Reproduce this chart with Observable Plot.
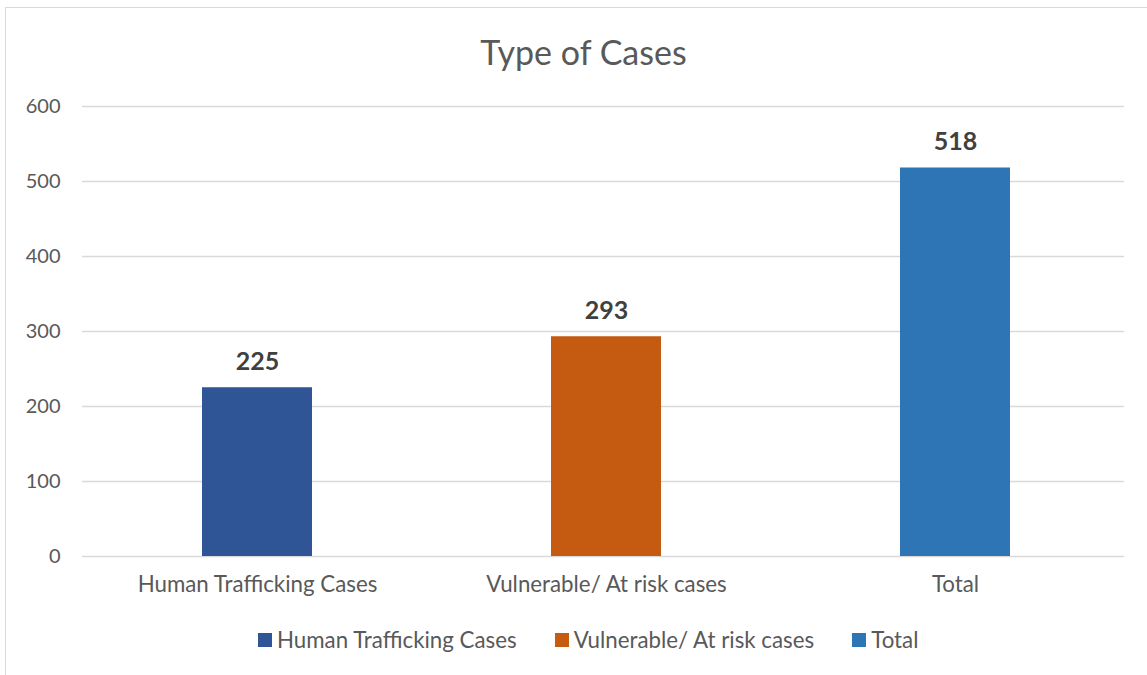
<!DOCTYPE html>
<html>
<head>
<meta charset="utf-8">
<script src="https://cdn.jsdelivr.net/npm/d3@7"></script>
<script src="https://cdn.jsdelivr.net/npm/@observablehq/plot@0.6"></script>
<style>
  html, body { margin: 0; padding: 0; background: #fff; }
  #wrap { position: relative; width: 1147px; height: 675px; overflow: hidden; font-family: Lato, "Open Sans", sans-serif; }
  #frame { position: absolute; left: 5px; top: 7px; width: 1160px; height: 700px; border-left: 1.5px solid #d9d9d9; border-top: 1.5px solid #d9d9d9; }
  #title { position: absolute; left: 0; width: 1167px; top: 31px; text-align: center; font-size: 34px; line-height: 42px; color: #595959; }
  #chart { position: absolute; left: 0; top: 0; }
  #legend { position: absolute; left: 258px; top: 627px; display: flex; font-size: 22.3px; line-height: 26px; color: #595959; }
  .item { display: flex; align-items: center; margin-right: 38px; }
  .sw { width: 14px; height: 14px; margin-right: 5px; }
</style>
</head>
<body>
<div id="wrap">
  <div id="frame"></div>
  <div id="title">Type of Cases</div>
  <div id="chart"></div>
  <div id="legend"></div>
</div>
<script>
const categories = ["Human Trafficking Cases", "Vulnerable/ At risk cases", "Total"];
const values = [225, 293, 518];
const colors = ["#2F5597", "#C55A11", "#2E75B6"];
const yTicks = [0, 100, 200, 300, 400, 500, 600];

const data = categories.map((c, i) => ({category: c, value: values[i], color: colors[i]}));

const chart = Plot.plot({
  width: 1147,
  height: 600,
  marginTop: 106,
  marginBottom: 44,
  marginLeft: 82,
  marginRight: 17,
  style: {fontFamily: "Lato, 'Open Sans', sans-serif", fontSize: "20px", color: "#595959", background: "transparent"},
  x: {domain: categories, paddingInner: 0.685, paddingOuter: 0.3425, label: null},
  y: {domain: [0, 600], label: null},
  marks: [
    Plot.ruleY(yTicks, {stroke: "#d9d9d9", strokeWidth: 1.5, insetRight: 6}),
    Plot.barY(data, {x: "category", y: "value", fill: "color"}),
    Plot.text(data, {x: "category", y: "value", text: d => String(d.value), lineAnchor: "bottom", dy: -18, fontSize: 25, fontWeight: "bold", fill: "#404040"}),
    Plot.axisY(yTicks, {tickSize: 0, tickPadding: 22, fontSize: 20, fill: "#595959", label: null}),
    Plot.axisX({tickSize: 0, tickPadding: 20, fontSize: 22.3, fill: "#595959", label: null})
  ]
});
document.getElementById("chart").appendChild(chart);

const legend = document.getElementById("legend");
categories.forEach((c, i) => {
  const item = document.createElement("div");
  item.className = "item";
  const sw = document.createElement("div");
  sw.className = "sw";
  sw.style.background = colors[i];
  const t = document.createElement("span");
  t.textContent = c;
  item.appendChild(sw);
  item.appendChild(t);
  legend.appendChild(item);
});
</script>
</body>
</html>
